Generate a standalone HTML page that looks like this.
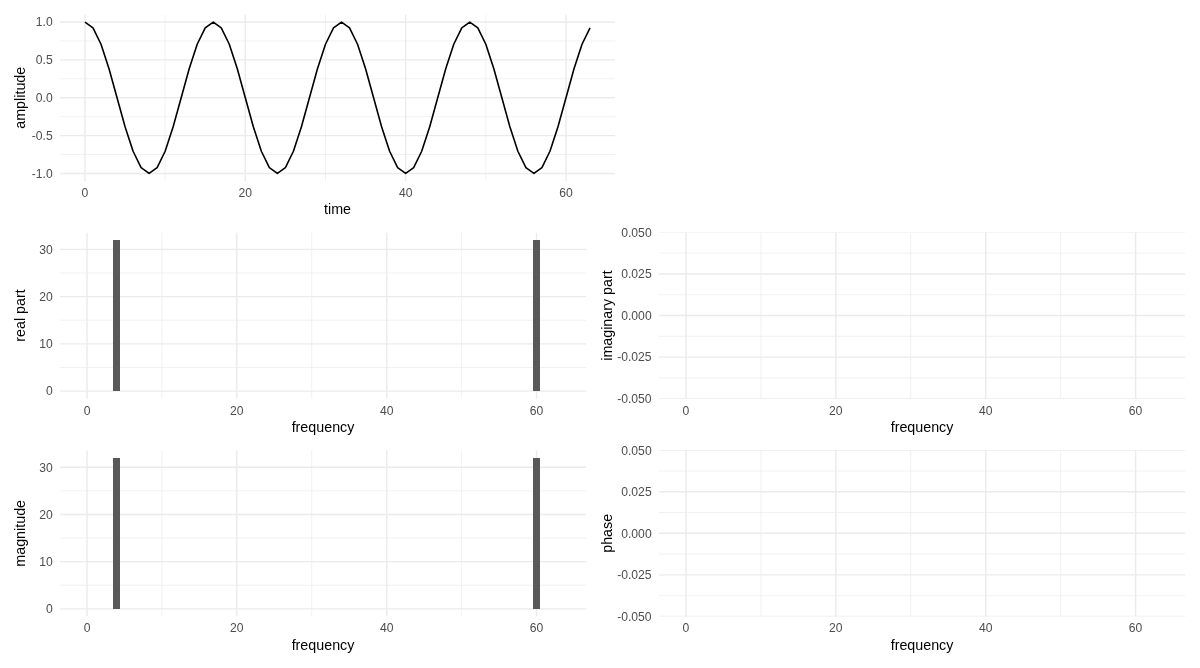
<!DOCTYPE html>
<html><head><meta charset="utf-8"><style>
html,body{margin:0;padding:0;background:#fff;width:1200px;height:668px;overflow:hidden}
svg{display:block;will-change:transform}
.t{font-family:"Liberation Sans", sans-serif;font-size:12.17px;fill:#4D4D4D}
.a{font-family:"Liberation Sans", sans-serif;font-size:14.67px;fill:#000}
</style></head><body>
<svg width="1200" height="668" viewBox="0 0 1200 668">
<rect width="1200" height="668" fill="#fff"/>
<clipPath id="c1"><rect x="59.72" y="14.50" width="555.58" height="166.50"/></clipPath>
<g clip-path="url(#c1)">
<line x1="59.72" x2="615.30" y1="154.51" y2="154.51" stroke="#EBEBEB" stroke-width="0.71"/>
<line x1="59.72" x2="615.30" y1="116.67" y2="116.67" stroke="#EBEBEB" stroke-width="0.71"/>
<line x1="59.72" x2="615.30" y1="78.83" y2="78.83" stroke="#EBEBEB" stroke-width="0.71"/>
<line x1="59.72" x2="615.30" y1="40.99" y2="40.99" stroke="#EBEBEB" stroke-width="0.71"/>
<line y1="14.50" y2="181.00" x1="165.14" x2="165.14" stroke="#EBEBEB" stroke-width="0.71"/>
<line y1="14.50" y2="181.00" x1="325.48" x2="325.48" stroke="#EBEBEB" stroke-width="0.71"/>
<line y1="14.50" y2="181.00" x1="485.83" x2="485.83" stroke="#EBEBEB" stroke-width="0.71"/>
<line x1="59.72" x2="615.30" y1="173.43" y2="173.43" stroke="#EBEBEB" stroke-width="1.42"/>
<line x1="59.72" x2="615.30" y1="135.59" y2="135.59" stroke="#EBEBEB" stroke-width="1.42"/>
<line x1="59.72" x2="615.30" y1="97.75" y2="97.75" stroke="#EBEBEB" stroke-width="1.42"/>
<line x1="59.72" x2="615.30" y1="59.91" y2="59.91" stroke="#EBEBEB" stroke-width="1.42"/>
<line x1="59.72" x2="615.30" y1="22.07" y2="22.07" stroke="#EBEBEB" stroke-width="1.42"/>
<line y1="14.50" y2="181.00" x1="84.97" x2="84.97" stroke="#EBEBEB" stroke-width="1.42"/>
<line y1="14.50" y2="181.00" x1="245.31" x2="245.31" stroke="#EBEBEB" stroke-width="1.42"/>
<line y1="14.50" y2="181.00" x1="405.65" x2="405.65" stroke="#EBEBEB" stroke-width="1.42"/>
<line y1="14.50" y2="181.00" x1="566.00" x2="566.00" stroke="#EBEBEB" stroke-width="1.42"/>
<polyline points="84.97,22.07 92.99,27.83 101.01,44.23 109.02,68.79 117.04,97.75 125.06,126.71 133.08,151.27 141.09,167.67 149.11,173.43 157.13,167.67 165.14,151.27 173.16,126.71 181.18,97.75 189.19,68.79 197.21,44.23 205.23,27.83 213.25,22.07 221.26,27.83 229.28,44.23 237.30,68.79 245.31,97.75 253.33,126.71 261.35,151.27 269.37,167.67 277.38,173.43 285.40,167.67 293.42,151.27 301.43,126.71 309.45,97.75 317.47,68.79 325.48,44.23 333.50,27.83 341.52,22.07 349.54,27.83 357.55,44.23 365.57,68.79 373.59,97.75 381.60,126.71 389.62,151.27 397.64,167.67 405.65,173.43 413.67,167.67 421.69,151.27 429.71,126.71 437.72,97.75 445.74,68.79 453.76,44.23 461.77,27.83 469.79,22.07 477.81,27.83 485.83,44.23 493.84,68.79 501.86,97.75 509.88,126.71 517.89,151.27 525.91,167.67 533.93,173.43 541.94,167.67 549.96,151.27 557.98,126.71 566.00,97.75 574.01,68.79 582.03,44.23 590.05,27.83" fill="none" stroke="#000" stroke-width="1.6" stroke-linejoin="round" stroke-linecap="butt"/>
</g>
<text transform="translate(52.72,177.73) scale(1,1.075)" text-anchor="end" class="t">-1.0</text>
<text transform="translate(52.72,139.89) scale(1,1.075)" text-anchor="end" class="t">-0.5</text>
<text transform="translate(52.72,102.05) scale(1,1.075)" text-anchor="end" class="t">0.0</text>
<text transform="translate(52.72,64.21) scale(1,1.075)" text-anchor="end" class="t">0.5</text>
<text transform="translate(52.72,26.37) scale(1,1.075)" text-anchor="end" class="t">1.0</text>
<text transform="translate(84.97,197.00) scale(1,1.075)" text-anchor="middle" class="t">0</text>
<text transform="translate(245.31,197.00) scale(1,1.075)" text-anchor="middle" class="t">20</text>
<text transform="translate(405.65,197.00) scale(1,1.075)" text-anchor="middle" class="t">40</text>
<text transform="translate(566.00,197.00) scale(1,1.075)" text-anchor="middle" class="t">60</text>
<text transform="translate(337.51,214.30) scale(0.975,1)" text-anchor="middle" class="a">time</text>
<text transform="translate(25.30,97.75) rotate(-90) scale(0.975,1)" x="0" y="0" text-anchor="middle" class="a">amplitude</text>
<clipPath id="c2"><rect x="59.72" y="232.40" width="526.55" height="166.25"/></clipPath>
<g clip-path="url(#c2)">
<line x1="59.72" x2="586.27" y1="367.48" y2="367.48" stroke="#EBEBEB" stroke-width="0.71"/>
<line x1="59.72" x2="586.27" y1="320.25" y2="320.25" stroke="#EBEBEB" stroke-width="0.71"/>
<line x1="59.72" x2="586.27" y1="273.02" y2="273.02" stroke="#EBEBEB" stroke-width="0.71"/>
<line y1="232.40" y2="398.65" x1="161.94" x2="161.94" stroke="#EBEBEB" stroke-width="0.71"/>
<line y1="232.40" y2="398.65" x1="311.76" x2="311.76" stroke="#EBEBEB" stroke-width="0.71"/>
<line y1="232.40" y2="398.65" x1="461.58" x2="461.58" stroke="#EBEBEB" stroke-width="0.71"/>
<line x1="59.72" x2="586.27" y1="391.09" y2="391.09" stroke="#EBEBEB" stroke-width="1.42"/>
<line x1="59.72" x2="586.27" y1="343.86" y2="343.86" stroke="#EBEBEB" stroke-width="1.42"/>
<line x1="59.72" x2="586.27" y1="296.63" y2="296.63" stroke="#EBEBEB" stroke-width="1.42"/>
<line x1="59.72" x2="586.27" y1="249.40" y2="249.40" stroke="#EBEBEB" stroke-width="1.42"/>
<line y1="232.40" y2="398.65" x1="87.03" x2="87.03" stroke="#EBEBEB" stroke-width="1.42"/>
<line y1="232.40" y2="398.65" x1="236.85" x2="236.85" stroke="#EBEBEB" stroke-width="1.42"/>
<line y1="232.40" y2="398.65" x1="386.67" x2="386.67" stroke="#EBEBEB" stroke-width="1.42"/>
<line y1="232.40" y2="398.65" x1="536.49" x2="536.49" stroke="#EBEBEB" stroke-width="1.42"/>
<rect x="113.00" y="240.00" width="7.00" height="151.00" fill="#595959"/>
<rect x="533.00" y="240.00" width="7.00" height="151.00" fill="#595959"/>
</g>
<text transform="translate(52.72,395.39) scale(1,1.075)" text-anchor="end" class="t">0</text>
<text transform="translate(52.72,348.16) scale(1,1.075)" text-anchor="end" class="t">10</text>
<text transform="translate(52.72,300.93) scale(1,1.075)" text-anchor="end" class="t">20</text>
<text transform="translate(52.72,253.70) scale(1,1.075)" text-anchor="end" class="t">30</text>
<text transform="translate(87.03,414.65) scale(1,1.075)" text-anchor="middle" class="t">0</text>
<text transform="translate(236.85,414.65) scale(1,1.075)" text-anchor="middle" class="t">20</text>
<text transform="translate(386.67,414.65) scale(1,1.075)" text-anchor="middle" class="t">40</text>
<text transform="translate(536.49,414.65) scale(1,1.075)" text-anchor="middle" class="t">60</text>
<text transform="translate(323.00,431.95) scale(0.975,1)" text-anchor="middle" class="a">frequency</text>
<text transform="translate(25.30,315.52) rotate(-90) scale(0.975,1)" x="0" y="0" text-anchor="middle" class="a">real part</text>
<clipPath id="c3"><rect x="658.65" y="232.40" width="526.75" height="166.25"/></clipPath>
<g clip-path="url(#c3)">
<line x1="658.65" x2="1185.40" y1="377.87" y2="377.87" stroke="#EBEBEB" stroke-width="0.71"/>
<line x1="658.65" x2="1185.40" y1="336.31" y2="336.31" stroke="#EBEBEB" stroke-width="0.71"/>
<line x1="658.65" x2="1185.40" y1="294.74" y2="294.74" stroke="#EBEBEB" stroke-width="0.71"/>
<line x1="658.65" x2="1185.40" y1="253.18" y2="253.18" stroke="#EBEBEB" stroke-width="0.71"/>
<line y1="232.40" y2="398.65" x1="760.90" x2="760.90" stroke="#EBEBEB" stroke-width="0.71"/>
<line y1="232.40" y2="398.65" x1="910.78" x2="910.78" stroke="#EBEBEB" stroke-width="0.71"/>
<line y1="232.40" y2="398.65" x1="1060.66" x2="1060.66" stroke="#EBEBEB" stroke-width="0.71"/>
<line x1="658.65" x2="1185.40" y1="398.65" y2="398.65" stroke="#EBEBEB" stroke-width="1.42"/>
<line x1="658.65" x2="1185.40" y1="357.09" y2="357.09" stroke="#EBEBEB" stroke-width="1.42"/>
<line x1="658.65" x2="1185.40" y1="315.52" y2="315.52" stroke="#EBEBEB" stroke-width="1.42"/>
<line x1="658.65" x2="1185.40" y1="273.96" y2="273.96" stroke="#EBEBEB" stroke-width="1.42"/>
<line x1="658.65" x2="1185.40" y1="232.40" y2="232.40" stroke="#EBEBEB" stroke-width="1.42"/>
<line y1="232.40" y2="398.65" x1="685.97" x2="685.97" stroke="#EBEBEB" stroke-width="1.42"/>
<line y1="232.40" y2="398.65" x1="835.84" x2="835.84" stroke="#EBEBEB" stroke-width="1.42"/>
<line y1="232.40" y2="398.65" x1="985.72" x2="985.72" stroke="#EBEBEB" stroke-width="1.42"/>
<line y1="232.40" y2="398.65" x1="1135.60" x2="1135.60" stroke="#EBEBEB" stroke-width="1.42"/>

</g>
<text transform="translate(651.65,402.95) scale(1,1.075)" text-anchor="end" class="t">-0.050</text>
<text transform="translate(651.65,361.39) scale(1,1.075)" text-anchor="end" class="t">-0.025</text>
<text transform="translate(651.65,319.82) scale(1,1.075)" text-anchor="end" class="t">0.000</text>
<text transform="translate(651.65,278.26) scale(1,1.075)" text-anchor="end" class="t">0.025</text>
<text transform="translate(651.65,236.70) scale(1,1.075)" text-anchor="end" class="t">0.050</text>
<text transform="translate(685.97,414.65) scale(1,1.075)" text-anchor="middle" class="t">0</text>
<text transform="translate(835.84,414.65) scale(1,1.075)" text-anchor="middle" class="t">20</text>
<text transform="translate(985.72,414.65) scale(1,1.075)" text-anchor="middle" class="t">40</text>
<text transform="translate(1135.60,414.65) scale(1,1.075)" text-anchor="middle" class="t">60</text>
<text transform="translate(922.03,431.95) scale(0.975,1)" text-anchor="middle" class="a">frequency</text>
<text transform="translate(612.10,315.52) rotate(-90) scale(0.975,1)" x="0" y="0" text-anchor="middle" class="a">imaginary part</text>
<clipPath id="c4"><rect x="59.72" y="450.20" width="526.55" height="166.25"/></clipPath>
<g clip-path="url(#c4)">
<line x1="59.72" x2="586.27" y1="585.28" y2="585.28" stroke="#EBEBEB" stroke-width="0.71"/>
<line x1="59.72" x2="586.27" y1="538.05" y2="538.05" stroke="#EBEBEB" stroke-width="0.71"/>
<line x1="59.72" x2="586.27" y1="490.82" y2="490.82" stroke="#EBEBEB" stroke-width="0.71"/>
<line y1="450.20" y2="616.45" x1="161.94" x2="161.94" stroke="#EBEBEB" stroke-width="0.71"/>
<line y1="450.20" y2="616.45" x1="311.76" x2="311.76" stroke="#EBEBEB" stroke-width="0.71"/>
<line y1="450.20" y2="616.45" x1="461.58" x2="461.58" stroke="#EBEBEB" stroke-width="0.71"/>
<line x1="59.72" x2="586.27" y1="608.89" y2="608.89" stroke="#EBEBEB" stroke-width="1.42"/>
<line x1="59.72" x2="586.27" y1="561.66" y2="561.66" stroke="#EBEBEB" stroke-width="1.42"/>
<line x1="59.72" x2="586.27" y1="514.43" y2="514.43" stroke="#EBEBEB" stroke-width="1.42"/>
<line x1="59.72" x2="586.27" y1="467.20" y2="467.20" stroke="#EBEBEB" stroke-width="1.42"/>
<line y1="450.20" y2="616.45" x1="87.03" x2="87.03" stroke="#EBEBEB" stroke-width="1.42"/>
<line y1="450.20" y2="616.45" x1="236.85" x2="236.85" stroke="#EBEBEB" stroke-width="1.42"/>
<line y1="450.20" y2="616.45" x1="386.67" x2="386.67" stroke="#EBEBEB" stroke-width="1.42"/>
<line y1="450.20" y2="616.45" x1="536.49" x2="536.49" stroke="#EBEBEB" stroke-width="1.42"/>
<rect x="113.00" y="458.00" width="7.00" height="151.00" fill="#595959"/>
<rect x="533.00" y="458.00" width="7.00" height="151.00" fill="#595959"/>
</g>
<text transform="translate(52.72,613.19) scale(1,1.075)" text-anchor="end" class="t">0</text>
<text transform="translate(52.72,565.96) scale(1,1.075)" text-anchor="end" class="t">10</text>
<text transform="translate(52.72,518.73) scale(1,1.075)" text-anchor="end" class="t">20</text>
<text transform="translate(52.72,471.50) scale(1,1.075)" text-anchor="end" class="t">30</text>
<text transform="translate(87.03,632.45) scale(1,1.075)" text-anchor="middle" class="t">0</text>
<text transform="translate(236.85,632.45) scale(1,1.075)" text-anchor="middle" class="t">20</text>
<text transform="translate(386.67,632.45) scale(1,1.075)" text-anchor="middle" class="t">40</text>
<text transform="translate(536.49,632.45) scale(1,1.075)" text-anchor="middle" class="t">60</text>
<text transform="translate(323.00,649.75) scale(0.975,1)" text-anchor="middle" class="a">frequency</text>
<text transform="translate(25.30,533.33) rotate(-90) scale(0.975,1)" x="0" y="0" text-anchor="middle" class="a">magnitude</text>
<clipPath id="c5"><rect x="658.65" y="450.20" width="526.75" height="166.25"/></clipPath>
<g clip-path="url(#c5)">
<line x1="658.65" x2="1185.40" y1="595.67" y2="595.67" stroke="#EBEBEB" stroke-width="0.71"/>
<line x1="658.65" x2="1185.40" y1="554.11" y2="554.11" stroke="#EBEBEB" stroke-width="0.71"/>
<line x1="658.65" x2="1185.40" y1="512.54" y2="512.54" stroke="#EBEBEB" stroke-width="0.71"/>
<line x1="658.65" x2="1185.40" y1="470.98" y2="470.98" stroke="#EBEBEB" stroke-width="0.71"/>
<line y1="450.20" y2="616.45" x1="760.90" x2="760.90" stroke="#EBEBEB" stroke-width="0.71"/>
<line y1="450.20" y2="616.45" x1="910.78" x2="910.78" stroke="#EBEBEB" stroke-width="0.71"/>
<line y1="450.20" y2="616.45" x1="1060.66" x2="1060.66" stroke="#EBEBEB" stroke-width="0.71"/>
<line x1="658.65" x2="1185.40" y1="616.45" y2="616.45" stroke="#EBEBEB" stroke-width="1.42"/>
<line x1="658.65" x2="1185.40" y1="574.89" y2="574.89" stroke="#EBEBEB" stroke-width="1.42"/>
<line x1="658.65" x2="1185.40" y1="533.33" y2="533.33" stroke="#EBEBEB" stroke-width="1.42"/>
<line x1="658.65" x2="1185.40" y1="491.76" y2="491.76" stroke="#EBEBEB" stroke-width="1.42"/>
<line x1="658.65" x2="1185.40" y1="450.20" y2="450.20" stroke="#EBEBEB" stroke-width="1.42"/>
<line y1="450.20" y2="616.45" x1="685.97" x2="685.97" stroke="#EBEBEB" stroke-width="1.42"/>
<line y1="450.20" y2="616.45" x1="835.84" x2="835.84" stroke="#EBEBEB" stroke-width="1.42"/>
<line y1="450.20" y2="616.45" x1="985.72" x2="985.72" stroke="#EBEBEB" stroke-width="1.42"/>
<line y1="450.20" y2="616.45" x1="1135.60" x2="1135.60" stroke="#EBEBEB" stroke-width="1.42"/>

</g>
<text transform="translate(651.65,620.75) scale(1,1.075)" text-anchor="end" class="t">-0.050</text>
<text transform="translate(651.65,579.19) scale(1,1.075)" text-anchor="end" class="t">-0.025</text>
<text transform="translate(651.65,537.62) scale(1,1.075)" text-anchor="end" class="t">0.000</text>
<text transform="translate(651.65,496.06) scale(1,1.075)" text-anchor="end" class="t">0.025</text>
<text transform="translate(651.65,454.50) scale(1,1.075)" text-anchor="end" class="t">0.050</text>
<text transform="translate(685.97,632.45) scale(1,1.075)" text-anchor="middle" class="t">0</text>
<text transform="translate(835.84,632.45) scale(1,1.075)" text-anchor="middle" class="t">20</text>
<text transform="translate(985.72,632.45) scale(1,1.075)" text-anchor="middle" class="t">40</text>
<text transform="translate(1135.60,632.45) scale(1,1.075)" text-anchor="middle" class="t">60</text>
<text transform="translate(922.03,649.75) scale(0.975,1)" text-anchor="middle" class="a">frequency</text>
<text transform="translate(612.10,533.33) rotate(-90) scale(0.975,1)" x="0" y="0" text-anchor="middle" class="a">phase</text>
</svg></body></html>
